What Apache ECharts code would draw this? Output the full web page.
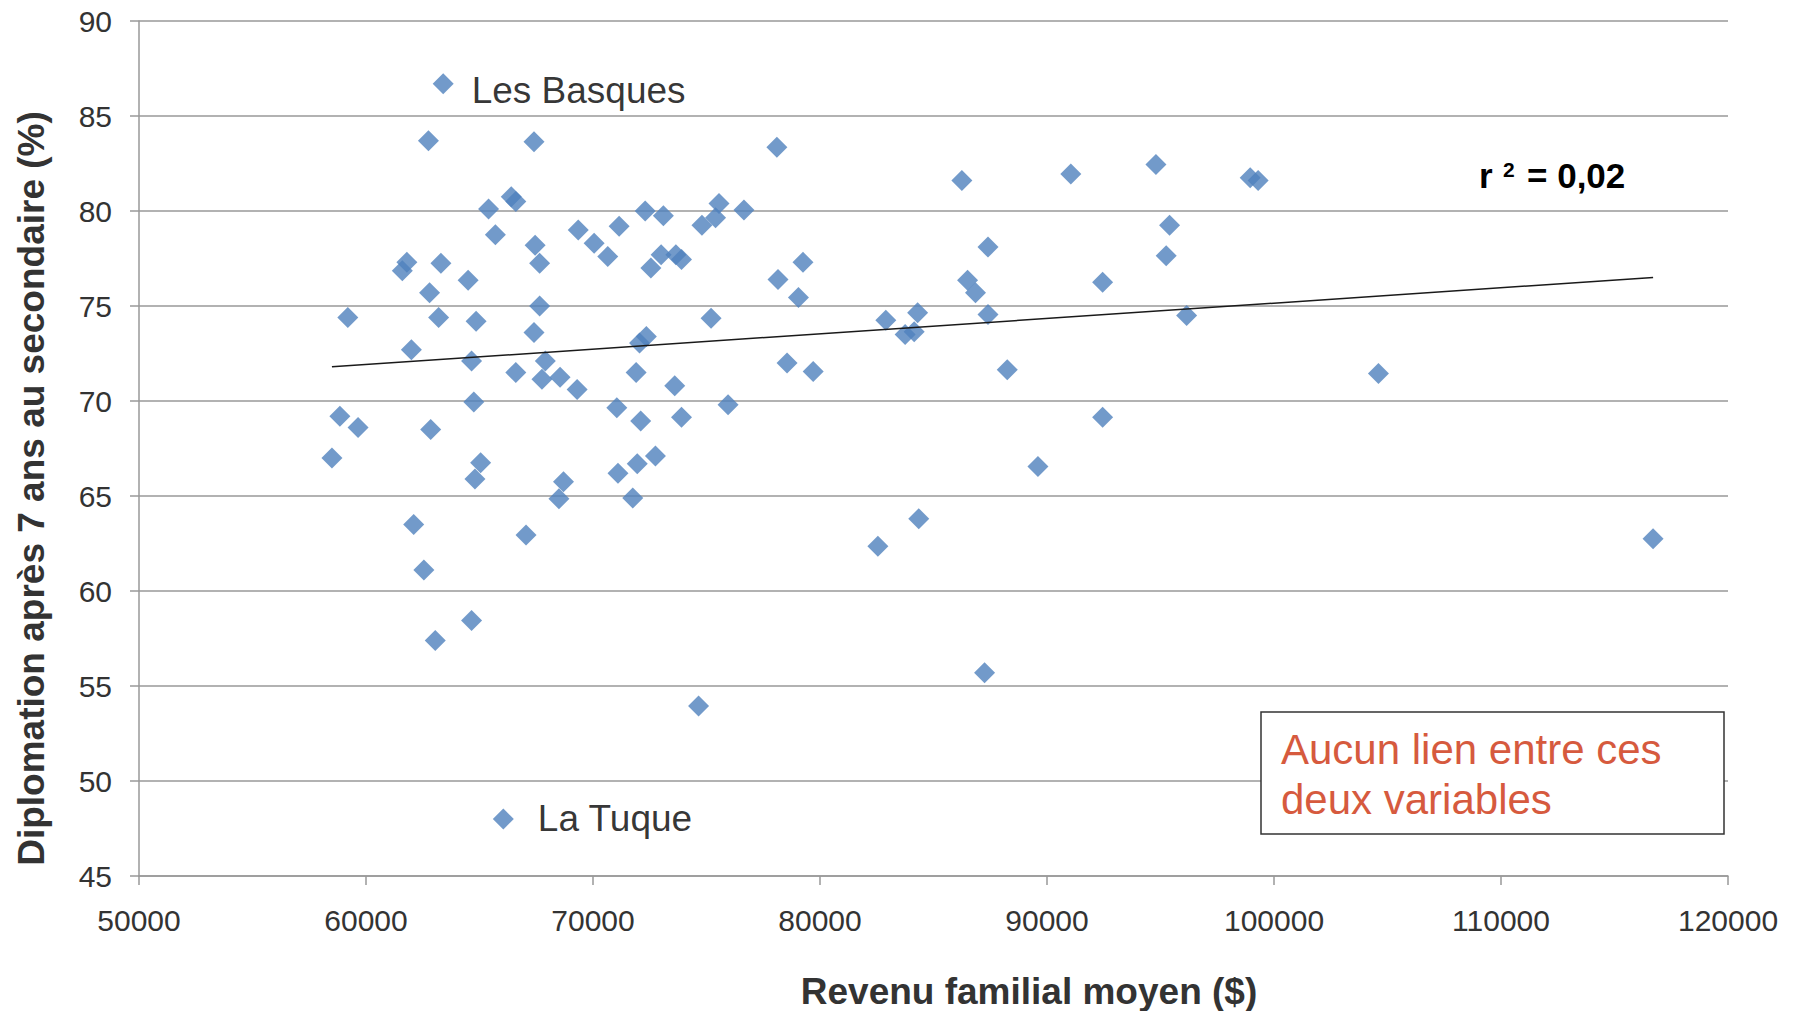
<!DOCTYPE html>
<html>
<head>
<meta charset="utf-8">
<title>Diplomation et revenu familial</title>
<script src="https://cdn.jsdelivr.net/npm/echarts@6/dist/echarts.min.js"></script>
<style>
  html, body { margin: 0; padding: 0; background: #fff; }
  #chart { width: 1799px; height: 1011px; }
</style>
</head>
<body>
<div id="chart"></div>
<script>
// the first two points carry a label
const pointNames = ["Les Basques", "La Tuque"]

const income = [
  63400, 66050, 62750, 67400, 78100, 65400, 66400, 66600, 65700, 67450,
  67650, 69350, 70050, 70650, 71150, 72300, 73100, 74800, 75400, 75550,
  76650, 73000, 73650, 73900, 72550, 61800, 61600, 63300, 62800, 64500,
  59200, 63200, 64850, 67650, 67400, 62000, 64650, 67900, 66600, 67750,
  68550, 69300, 72050, 72350, 75200, 71900, 73600, 78550, 78150, 58850,
  59650, 62850, 64750, 71050, 72100, 73900, 75950, 58500, 65050, 64800,
  68700, 68500, 71100, 71950, 72750, 71750, 62100, 67050, 62550, 64650,
  63050, 74650, 86250, 91050, 94800, 79250, 79050, 87400, 86500, 86850,
  87400, 95400, 95250, 92450, 96150, 82900, 84300, 83750, 84150, 79700,
  88250, 92450, 89600, 84350, 82550, 87250, 98950, 99300, 104600, 116700
]

const graduation = [
  86.7, 48.0, 83.7, 83.65, 83.35, 80.1, 80.75, 80.5, 78.75, 78.2,
  77.25, 79.0, 78.3, 77.6, 79.2, 80.0, 79.75, 79.25, 79.65, 80.4,
  80.05, 77.7, 77.7, 77.45, 77.0, 77.3, 76.85, 77.25, 75.7, 76.35,
  74.4, 74.4, 74.2, 75.0, 73.6, 72.7, 72.1, 72.1, 71.5, 71.15,
  71.25, 70.6, 73.05, 73.4, 74.35, 71.5, 70.8, 72.0, 76.4, 69.2,
  68.6, 68.5, 69.95, 69.65, 68.95, 69.15, 69.8, 67.0, 66.75, 65.9,
  65.75, 64.85, 66.2, 66.7, 67.1, 64.9, 63.5, 62.95, 61.1, 58.45,
  57.4, 53.95, 81.6, 81.95, 82.45, 77.3, 75.45, 78.1, 76.35, 75.7,
  74.55, 79.25, 77.65, 76.25, 74.5, 74.25, 74.65, 73.5, 73.65, 71.55,
  71.65, 69.15, 66.55, 63.8, 62.35, 55.7, 81.75, 81.6, 71.45, 62.75
]

// linear trend line, ends
const trendIncome = [58500, 116700]
const trendGraduation = [71.8, 76.5]

const xMin = 50000
const xMax = 120000
const xStep = 10000
const yMin = 45
const yMax = 90
const yStep = 5

const FONT = "'Liberation Sans', Arial, sans-serif"
const BLUE = "#4F81BD"

const labelOffsets = [[0, 7], [0, -1]]
const labelDistances = [18, 24]

const scatterData = income.map((x, i) => {
  const item = { value: [x, graduation[i]] }
  if (i < pointNames.length) {
    item.label = {
      show: true,
      formatter: pointNames[i],
      position: "right",
      distance: labelDistances[i],
      offset: labelOffsets[i],
      fontSize: 37,
      fontFamily: FONT,
      color: "#000",
    }
  }
  return item
})

const trendData = trendIncome.map((x, i) => [x, trendGraduation[i]])

const chart = echarts.init(document.getElementById("chart"), null, { renderer: "svg" })

const option = {
  backgroundColor: "#fff",
  animation: false,
  grid: {
    left: 139,
    right: 71,
    top: 21,
    bottom: 135,
    outerBoundsMode: "none",
  },
  xAxis: {
    type: "value",
    min: xMin,
    max: xMax,
    interval: xStep,
    name: "Revenu familial moyen ($)",
    nameLocation: "middle",
    nameGap: 97,
    nameTextStyle: {
      fontSize: 37,
      fontWeight: "bold",
      fontFamily: FONT,
      color: "#333",
      padding: [0, 0, 0, 191],
    },
    axisLine: { show: true, lineStyle: { color: "#999", width: 1.5 } },
    axisTick: { show: true, length: 9, lineStyle: { color: "#999", width: 1.5 } },
    axisLabel: {
      margin: 29,
      fontSize: 30,
      fontFamily: FONT,
      color: "#333",
      formatter: (v) => String(v),
    },
    splitLine: { show: false },
  },
  yAxis: {
    type: "value",
    min: yMin,
    max: yMax,
    interval: yStep,
    name: "Diplomation après 7 ans au secondaire (%)",
    nameLocation: "middle",
    nameGap: 89,
    nameTextStyle: {
      fontSize: 37,
      fontWeight: "bold",
      fontFamily: FONT,
      color: "#333",
      padding: [0, 80, 0, 0],
    },
    axisLine: { show: true, lineStyle: { color: "#999", width: 1.5 } },
    axisTick: { show: true, length: 9, lineStyle: { color: "#999", width: 1.5 } },
    axisLabel: {
      margin: 27,
      fontSize: 30,
      fontFamily: FONT,
      color: "#333",
    },
    splitLine: { show: true, lineStyle: { color: "#999", width: 1.5 } },
  },
  series: [
    {
      name: "Diplomation",
      type: "scatter",
      symbol: "diamond",
      symbolSize: 21,
      itemStyle: { color: BLUE },
      data: scatterData,
      z: 2,
    },
    {
      name: "Tendance",
      type: "line",
      data: trendData,
      symbol: "none",
      lineStyle: { color: "#1a1a1a", width: 1.5 },
      z: 3,
    },
  ],
  graphic: [
    {
      type: "text",
      x: 1479,
      y: 175,
      style: { text: "r", fontSize: 35, fontWeight: "bold", fontFamily: FONT, fill: "#000", verticalAlign: "middle" },
    },
    {
      type: "text",
      x: 1503,
      y: 169,
      style: { text: "2", fontSize: 21, fontWeight: "bold", fontFamily: FONT, fill: "#000", verticalAlign: "middle" },
    },
    {
      type: "text",
      x: 1527,
      y: 175,
      style: { text: "= 0,02", fontSize: 35, fontWeight: "bold", fontFamily: FONT, fill: "#000", verticalAlign: "middle" },
    },
    {
      type: "rect",
      shape: { x: 1261, y: 712, width: 463, height: 122 },
      style: { fill: "#fff", stroke: "#333", lineWidth: 1.5 },
      z: 10,
    },
    {
      type: "text",
      x: 1281,
      y: 724,
      z: 11,
      style: {
        text: "Aucun lien entre ces\ndeux variables",
        fontSize: 42,
        lineHeight: 50,
        fontFamily: FONT,
        fill: "#D65A3E",
        verticalAlign: "top",
      },
    },
  ],
}

chart.setOption(option)

window.addEventListener("resize", () => chart.resize())
</script>
</body>
</html>
